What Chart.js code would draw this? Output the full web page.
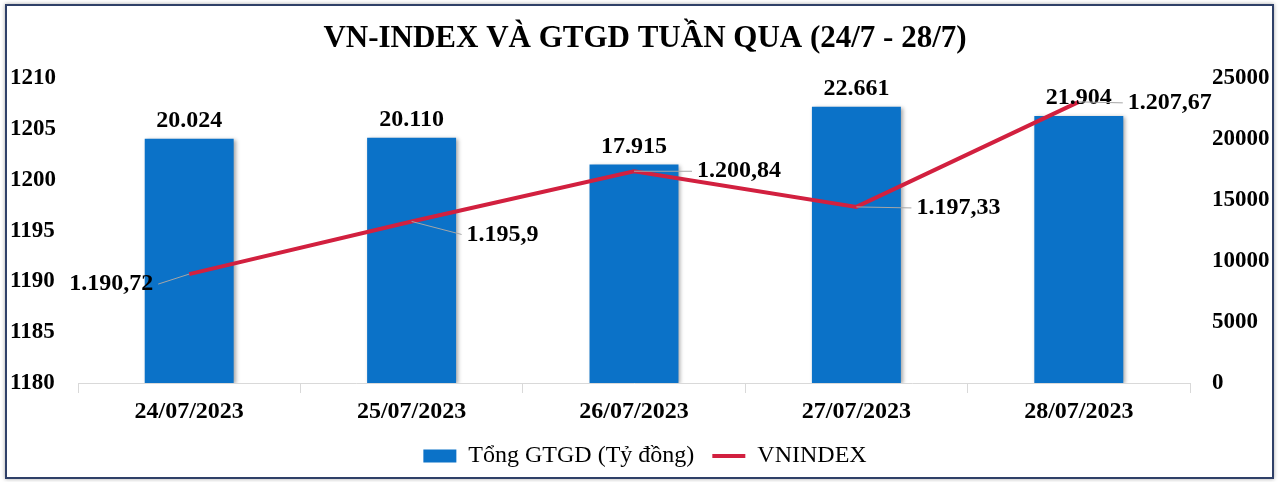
<!DOCTYPE html>
<html>
<head>
<meta charset="utf-8">
<script src="https://cdn.jsdelivr.net/npm/chart.js"></script>
<style>
  html, body { margin: 0; padding: 0; background: #fff; }
  #frame { position: absolute; left: 5px; top: 4px; width: 1265px; height: 471px;
           border: 2px solid #2f4068; box-shadow: 0 0 4px rgba(0,0,0,0.35); }
  #wrap { position: absolute; left: 0; top: 0; width: 1280px; height: 482px; }
</style>
</head>
<body>
<div id="frame"></div>
<div id="wrap"><canvas id="chart"></canvas></div>
<script>
// data
const dates = ['24/07/2023', '25/07/2023', '26/07/2023', '27/07/2023', '28/07/2023'];
const volumes = [20024, 20110, 17915, 22661, 21904];          // Tổng GTGD (Tỷ đồng)
const vnindex = [1190.72, 1195.9, 1200.84, 1197.33, 1207.67];  // VNINDEX

// label anchors for the index values: [dx, dy, align]
const lineLabelOffsets = [[-36, 10, 'right'], [55, 13, 'left'], [63, 0, 'left'], [60, 1, 'left'], [49, 1, 'left']];

const serif = '"Liberation Serif", "Times New Roman", serif';
Chart.defaults.font.family = serif;
Chart.defaults.color = '#000';

// 20024 -> "20.024", 1190.72 -> "1.190,72"
function fmtVN(v) {
  const [intPart, decPart] = String(v).split('.');
  const grouped = intPart.replace(/\B(?=(\d{3})+(?!\d))/g, '.');
  return decPart ? grouped + ',' + decPart : grouped;
}

// plugin: bar shadow + value labels
const valueLabels = {
  id: 'valueLabels',
  beforeDatasetDraw(chart, args) {
    if (args.index !== 0) return;
    const { ctx } = chart;
    ctx.save();
    ctx.shadowColor = 'rgba(0,0,0,0.35)';
    ctx.shadowBlur = 4;
    ctx.shadowOffsetX = 2;
    ctx.shadowOffsetY = 1;
  },
  afterDatasetDraw(chart, args) {
    if (args.index === 0) chart.ctx.restore();
  },
  afterDatasetsDraw(chart) {
    const { ctx } = chart;
    ctx.save();
    ctx.font = 'bold 24px ' + serif;
    ctx.fillStyle = '#000';

    ctx.textAlign = 'center';
    ctx.textBaseline = 'alphabetic';
    chart.getDatasetMeta(0).data.forEach((bar, i) => {
      ctx.fillText(fmtVN(volumes[i]), bar.x, bar.y - 12);
    });

    ctx.textBaseline = 'middle';
    chart.getDatasetMeta(1).data.forEach((pt, i) => {
      const [dx, dy, align] = lineLabelOffsets[i];
      const lx = pt.x + dx, ly = pt.y + dy;
      const endX = align === 'right' ? lx + 5 : lx - 5;
      ctx.strokeStyle = '#a6a6a6';
      ctx.lineWidth = 1;
      ctx.beginPath();
      ctx.moveTo(pt.x, pt.y);
      ctx.lineTo(endX, ly);
      ctx.stroke();
      ctx.textAlign = align;
      ctx.fillText(fmtVN(vnindex[i]), lx, ly);
    });
    ctx.restore();
  }
};

new Chart(document.getElementById('chart'), {
  type: 'bar',
  data: {
    labels: dates,
    datasets: [
      {
        type: 'bar',
        label: 'Tổng GTGD (Tỷ đồng)',
        data: volumes,
        yAxisID: 'y1',
        backgroundColor: '#0b72c8',
        borderWidth: 0,
        categoryPercentage: 1,
        barPercentage: 0.4,
        pointStyle: 'rect',
        order: 2
      },
      {
        type: 'line',
        label: 'VNINDEX',
        data: vnindex,
        yAxisID: 'y',
        borderColor: '#d2203f',
        backgroundColor: '#d2203f',
        borderWidth: 4,
        pointRadius: 0,
        pointStyle: 'line',
        tension: 0,
        order: 1
      }
    ]
  },
  options: {
    responsive: true,
    maintainAspectRatio: false,
    animation: false,
    layout: { padding: { left: 10, right: 0, top: 8, bottom: 4 } },
    plugins: {
      title: {
        display: true,
        text: 'VN-INDEX VÀ GTGD TUẦN QUA (24/7 - 28/7)',
        font: { size: 31, weight: 'bold' },
        color: '#000',
        padding: { top: 12, bottom: 21 }
      },
      legend: {
        position: 'bottom',
        labels: {
          usePointStyle: true,
          pointStyleWidth: 33,
          boxHeight: 13,
          padding: 18,
          font: { size: 24 },
          color: '#000',
          sort: (a, b) => a.datasetIndex - b.datasetIndex
        }
      },
      tooltip: { enabled: false }
    },
    scales: {
      x: {
        offset: true,
        grid: { display: true, drawOnChartArea: false, tickLength: 10, color: '#d9d9d9', offset: true },
        border: { color: '#d9d9d9' },
        ticks: { font: { size: 24, weight: 'bold' }, color: '#000', padding: 4 },
        afterFit(scale) { scale.height = 43; }
      },
      y: {
        position: 'left',
        min: 1180,
        max: 1210,
        ticks: { stepSize: 5, font: { size: 23, weight: 'bold' }, color: '#000', crossAlign: 'far', padding: 0,
                 callback: (v) => String(v) },
        grid: { display: false, drawTicks: false },
        border: { display: false },
        afterFit(scale) { scale.width = 68; }
      },
      y1: {
        position: 'right',
        min: 0,
        max: 25000,
        ticks: { stepSize: 5000, font: { size: 23, weight: 'bold' }, color: '#000', crossAlign: 'near', padding: 22,
                 callback: (v) => String(v) },
        grid: { display: false, drawTicks: false },
        border: { display: false },
        afterFit(scale) { scale.width = 90; }
      }
    }
  },
  plugins: [valueLabels]
});
</script>
</body>
</html>
